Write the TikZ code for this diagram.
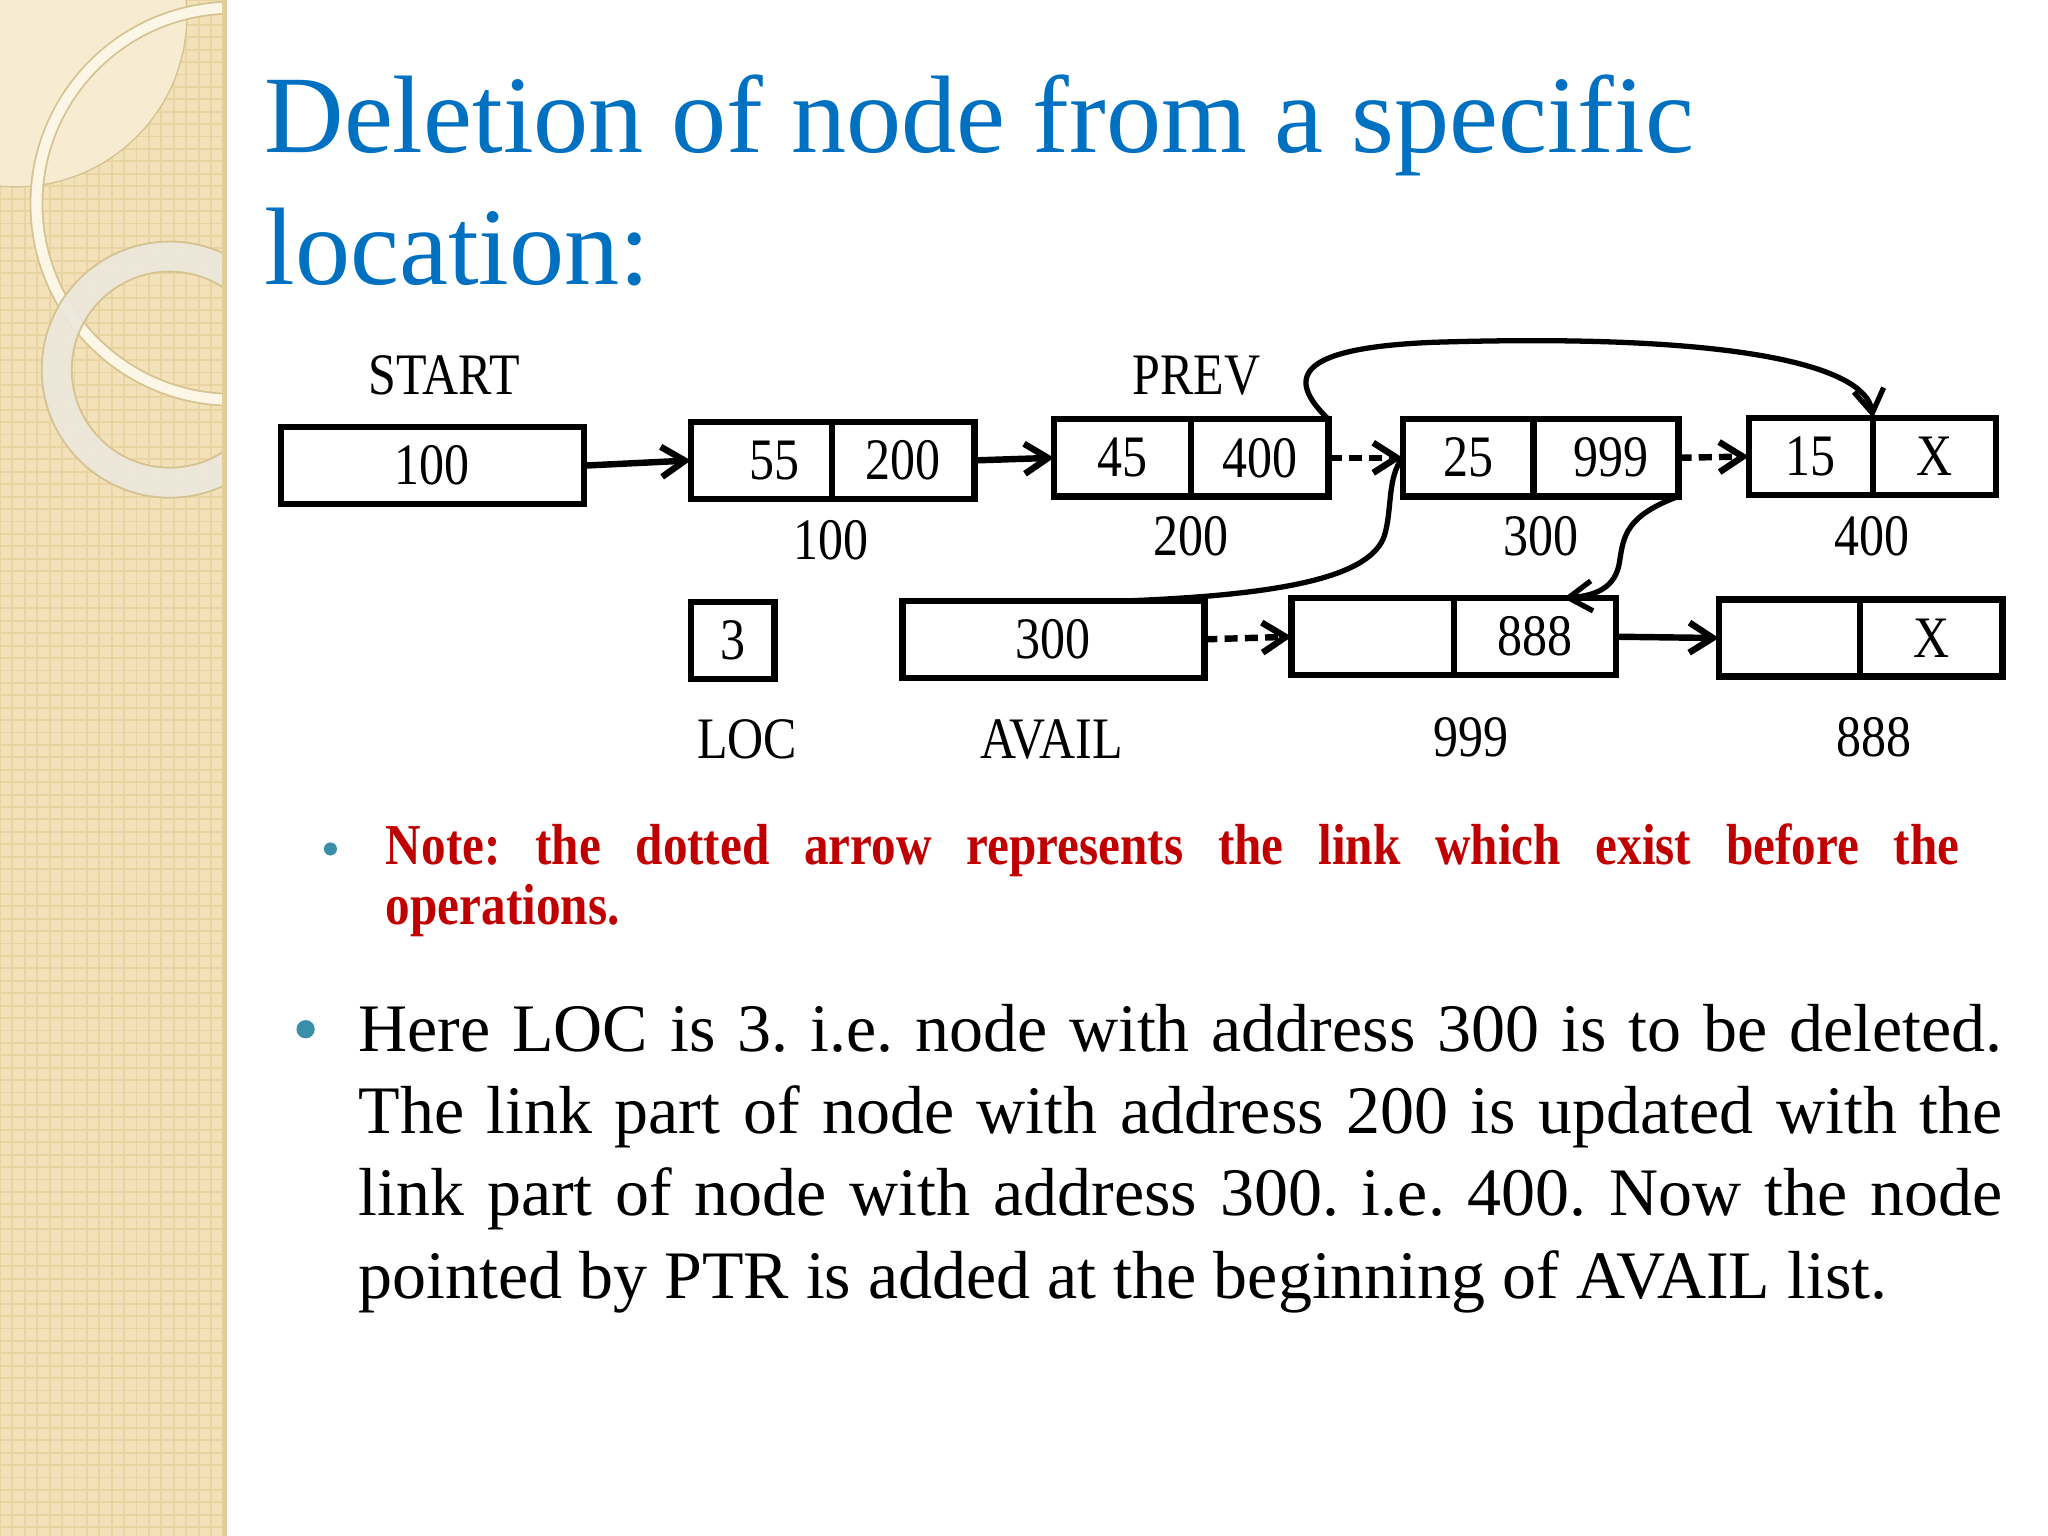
\documentclass[tikz,border=0pt]{standalone}
\usepackage{fontspec}
\setmainfont{Liberation Serif}
\newfontfamily\narrowfont[FakeStretch=0.85]{Liberation Serif}
\usetikzlibrary{arrows.meta}
\usetikzlibrary{positioning}

\definecolor{titleblue}{HTML}{0070C0}
\definecolor{notered}{HTML}{C00000}
\definecolor{bullteal}{HTML}{3A8FA8}
\definecolor{stripbg}{HTML}{F3E2B9}
\definecolor{stripgrid}{HTML}{E9D4A2}
\definecolor{stripedge}{HTML}{E2CE9C}
\definecolor{lensfill}{HTML}{F7ECD2}
\definecolor{ringfill}{HTML}{ECE8DD}
\definecolor{ringline}{HTML}{D6C392}
\definecolor{thinring}{HTML}{FBF6E6}

\begin{document}
\begin{tikzpicture}[x=0.01cm,y=-0.01cm,line width=1.4pt]
  \tikzset{cell/.style={draw, minimum height=0.59cm, inner sep=0pt, outer sep=0pt,
      font=\narrowfont\fontsize{12.8}{14}\selectfont}}
  \tikzset{lbl/.style={anchor=base, inner sep=0pt, font=\narrowfont\fontsize{12.8}{14}\selectfont}}
  \tikzset{link/.style={-{Straight Barb[length=1.8mm,width=2.3mm]}}}
  \tikzset{oldlink/.style={link, dash pattern=on 0.1cm off 0.055cm}}
  \tikzset{bullet/.style={circle, fill=bullteal, inner sep=0pt}}

  \useasboundingbox (0,0) rectangle (1568,1176);

  % left strip
  \fill[stripbg] (0,0) rectangle (174,1176);
  \begin{scope}
    \clip (0,0) rectangle (172,1176);
    \draw[stripgrid, line width=0.4pt, step=0.095cm] (0,0) grid (172,1176);
    \fill[lensfill] (12,12) circle[radius=1.31cm];
    \draw[ringline, line width=0.3pt] (12,12) circle[radius=1.31cm];
    \draw[ringline, line width=3pt] (178,156) circle[radius=1.5cm];
    \draw[thinring, line width=2.2pt] (178,156) circle[radius=1.5cm];
    \fill[ringfill, opacity=0.9, even odd rule] (130,283) circle[radius=0.98cm] (130,283) circle[radius=0.75cm];
    \draw[ringline, line width=0.4pt] (130,283) circle[radius=0.98cm] (130,283) circle[radius=0.75cm];
  \end{scope}
  \fill[stripedge] (170,0) rectangle (174,1176);

  % title
  \node[anchor=base west, inner sep=0pt, text=titleblue, font=\fontsize{24}{28}\selectfont] (title1) at (200,117) {Deletion of node from a specific};
  \node[anchor=base west, inner sep=0pt, text=titleblue, font=\fontsize{24}{28}\selectfont] (title2) at (200,218) {location:};

  % upper list
  \node[lbl] (startlbl) at (340,302) {START};
  \node[lbl] (prevlbl) at (916,302) {PREV};
  \node[cell, minimum width=2.32cm] (start) at (331,356.5) {100};
  \node[cell, minimum width=1.08cm] (n100d) at (583,352.5) {\hspace{0.2cm}55};
  \node[cell, minimum width=1.09cm, right=0pt of n100d] (n100l) {200};
  \node[cell, minimum width=1.05cm] (n200d) at (859.5,350.5) {45};
  \node[cell, minimum width=1.05cm, right=0pt of n200d] (n200l) {400};
  \node[cell, minimum width=1.00cm] (n300d) at (1124,350.5) {25\hspace{0.16cm}};
  \node[cell, minimum width=1.11cm, right=0pt of n300d] (n300l) {\hspace{0.08cm}999};
  \node[cell, minimum width=0.95cm] (n400d) at (1386.5,349.5) {15};
  \node[cell, minimum width=0.94cm, right=0pt of n400d] (n400l) {X};
  \node[lbl] (addr100) at (636,428) {100};
  \node[lbl] (addr200) at (912,425) {200};
  \node[lbl] (addr300) at (1180,425) {300};
  \node[lbl] (addr400) at (1433,425) {400};

  % lower row
  \node[cell, minimum width=0.64cm] (loc) at (561,490.5) {3};
  \node[cell, minimum width=2.31cm] (avail) at (806.5,489.5) {300};
  \node[cell, minimum width=1.24cm] (n999d) at (1051,487.5) {};
  \node[cell, minimum width=1.24cm, right=0pt of n999d] (n999l) {888};
  \node[cell, minimum width=1.08cm] (n888d) at (1370,488.5) {};
  \node[cell, minimum width=1.09cm, right=0pt of n888d] (n888l) {X};
  \node[lbl] (loclbl) at (572,581) {LOC};
  \node[lbl] (availlbl) at (805,581) {AVAIL};
  \node[lbl] (addr999) at (1126,579) {999};
  \node[lbl] (addr888) at (1435,579) {888};

  % links
  \draw[link] (start.east) -- (n100d.west);
  \draw[link] (n100l.east) -- (n200d.west);
  \draw[oldlink] (n200l.east) -- (n300d.west);
  \draw[oldlink] (n300l.east) -- (n400d.west);
  \draw[oldlink] (avail.east) -- (n999d.west);
  \draw[link] (n999l.east) -- (n888d.west);
  % new links
  \draw[link, line width=1.15pt] (n200l.north east) .. controls (985,290) and (990,266) .. (1100,262)
    .. controls (1330,255) and (1428,280) .. (n400l.north west);
  \draw[line width=1.15pt] ([xshift=0.58cm]avail.north) .. controls (990,455) and (1050,440) .. (1060,410)
    .. controls (1066,390) and (1062,365) .. (n300d.west);
  \draw[link, line width=1.15pt] (n300l.south east) .. controls (1245,395) and (1243,410) .. (1240,430)
    .. controls (1237,450) and (1222,456) .. ([xshift=0.22cm]n999l.north);

  % note
  \node[bullet, minimum size=0.1cm] (notebullet) at (253,650) {};
  \node[anchor=base west, inner sep=0pt, text=notered] (note) at (293,662)
    {\parbox[t]{12.04cm}{\narrowfont\bfseries\fontsize{12.6}{13.1}\selectfont\frenchspacing
      Note: the dotted arrow represents the link which exist before the\linebreak operations.}};

  % explanation
  \node[bullet, minimum size=0.14cm] (bodybullet) at (234,788) {};
  \node[anchor=base west, inner sep=0pt] (body) at (272,805)
    {\parbox[t]{12.58cm}{\fontsize{14.8}{17.9}\selectfont\frenchspacing
      Here LOC is 3. i.e. node with address 300 is to be deleted.\linebreak
      The link part of node with address 200 is updated with the\linebreak
      link part of node with address 300. i.e. 400. Now the node\linebreak
      pointed by PTR is added at the beginning of AVAIL list.}};
\end{tikzpicture}
\end{document}
